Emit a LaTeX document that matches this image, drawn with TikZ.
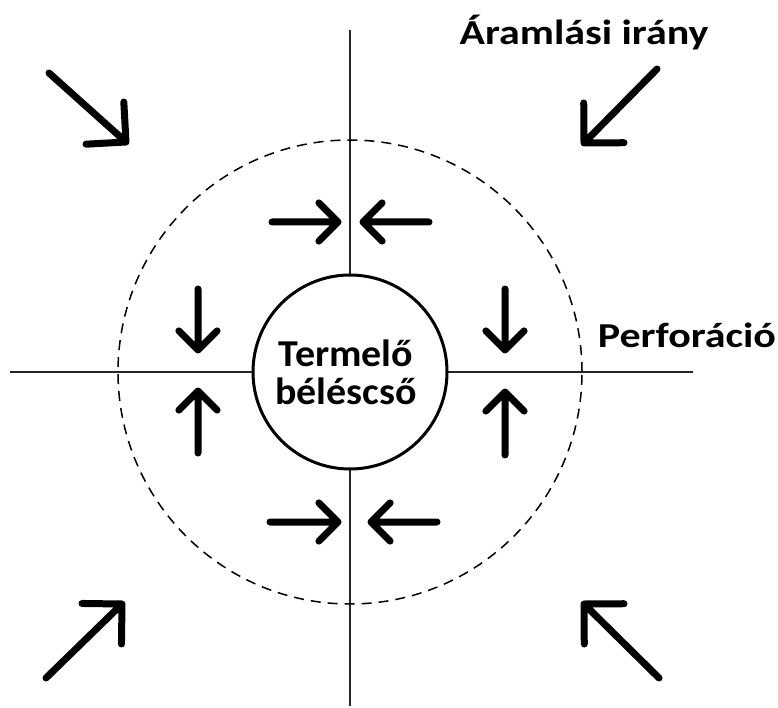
\documentclass[tikz,border=0pt]{standalone}
\usepackage{fontspec}
\setmainfont{Carlito}
\usetikzlibrary{calc}
\tikzset{
  flow/.style={line width=7pt, line cap=round, line join=round},
  axis/.style={line width=1.8pt, black!85},
  lbl/.style={font=\fontsize{35}{40}\selectfont\bfseries, inner sep=0pt, anchor=base, xscale=1.2},
}
\newcommand\flowarrow[3]{\draw[flow] (#1) -- (#2) ($(#2)!#3!45:(#1)$) -- (#2) -- ($(#2)!#3!-45:(#1)$);}
\begin{document}
\begin{tikzpicture}[x=1pt,y=-1pt]
\useasboundingbox (0,0) rectangle (778,708);
% axes
\coordinate (vt) at (350,30);
\coordinate (vb) at (350,706);
\coordinate (hl) at (10,372);
\coordinate (hr) at (693,372);
\draw[axis] (vt) -- (vb);
\draw[axis] (hl) -- (hr);
% dashed perforation zone
\node[circle, draw, line width=1.5pt, dash pattern=on 10pt off 7pt, minimum size=464pt, inner sep=0pt] (zone) at (350,372) {};
% production casing
\node[circle, draw, line width=3pt, fill=white, minimum size=194pt, inner sep=0pt] (pipe) at (350,372) {};
\node[align=center, inner sep=0pt, xscale=1.05,
      font=\fontsize{38}{38}\selectfont\bfseries] (pipetext) at (346,372) {Termelő\\béléscső};
% small arrows
\coordinate (a1s) at (272,222); \coordinate (a1e) at (338,222);
\coordinate (a2s) at (429,222); \coordinate (a2e) at (363,222);
\coordinate (a3s) at (270,522); \coordinate (a3e) at (338,522);
\coordinate (a4s) at (437,522); \coordinate (a4e) at (371,522);
\coordinate (a5s) at (198,289); \coordinate (a5e) at (198,350);
\coordinate (a6s) at (198,453); \coordinate (a6e) at (198,391);
\coordinate (a7s) at (505,289); \coordinate (a7e) at (505,350);
\coordinate (a8s) at (505,455); \coordinate (a8e) at (505,392);
\flowarrow{a1s}{a1e}{27pt}
\flowarrow{a2s}{a2e}{27pt}
\flowarrow{a3s}{a3e}{27pt}
\flowarrow{a4s}{a4e}{27pt}
\flowarrow{a5s}{a5e}{27pt}
\flowarrow{a6s}{a6e}{27pt}
\flowarrow{a7s}{a7e}{27pt}
\flowarrow{a8s}{a8e}{27pt}
% corner arrows
\coordinate (c1s) at (49,73);   \coordinate (c1e) at (126,142);
\coordinate (c2s) at (657,69);  \coordinate (c2e) at (584,143);
\coordinate (c3s) at (46,678);  \coordinate (c3e) at (122,604);
\coordinate (c4s) at (659,678); \coordinate (c4e) at (584,604);
\flowarrow{c1s}{c1e}{40pt}
\flowarrow{c2s}{c2e}{40pt}
\flowarrow{c3s}{c3e}{40pt}
\flowarrow{c4s}{c4e}{40pt}
% labels
\node[lbl] (flowlbl) at (584,45) {Áramlási irány};
\node[lbl] (perflbl) at (687,347) {Perforáció};
\end{tikzpicture}
\end{document}
